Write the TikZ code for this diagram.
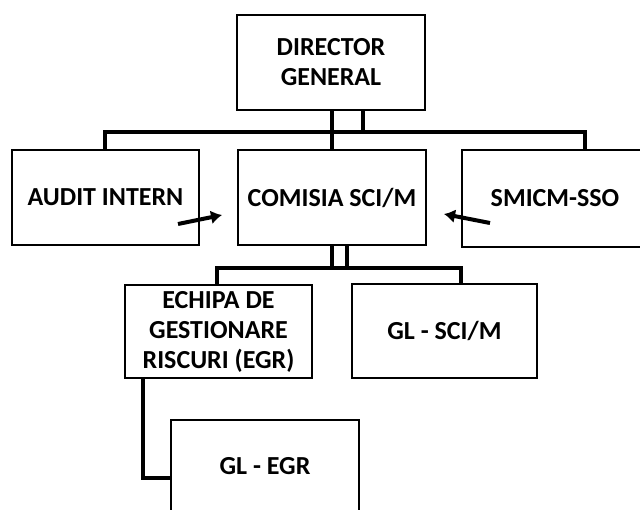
\documentclass[tikz,border=0pt]{standalone}
\usepackage{fontspec}
\setmainfont{Carlito}
\usetikzlibrary{arrows.meta,calc}
\begin{document}
\begin{tikzpicture}[x=1pt,y=-1pt,
  box/.style={draw, line width=1.6pt, inner sep=0pt, align=center,
    font=\fontsize{26}{30}\selectfont\bfseries},
  conn/.style={line width=3.5pt},
  arr/.style={line width=4pt, -{Latex[length=11pt,width=14pt]}}]
\useasboundingbox (0,0) rectangle (640,509);
\clip (0,0) rectangle (640,509);
\fill[white] (0,0) rectangle (640,509);
% boxes
\node[box, minimum width=188pt, minimum height=95pt] (DG) at (331,62.5) {DIRECTOR\\GENERAL};
\node[box, minimum width=187pt, minimum height=95pt] (AI) at (105.5,197.5) {AUDIT INTERN};
\node[box, minimum width=188pt, minimum height=95pt] (COM) at (332,197.5) {COMISIA SCI/M};
\node[box, minimum width=186pt, minimum height=97pt] (SM) at (555,198.5) {SMICM-SSO};
\node[box, minimum width=187pt, minimum height=93pt] (EG) at (218.5,331.5) {ECHIPA DE\\GESTIONARE\\RISCURI (EGR)};
\node[box, minimum width=185pt, minimum height=94pt] (GS) at (444.5,331) {GL - SCI/M};
\node[box, minimum width=188pt, minimum height=92pt] (GE) at (265,466) {GL - EGR};
% bus coordinates
\coordinate (b1L) at (105,132);
\coordinate (b1R) at (585,132);
\coordinate (d1) at (363,132);
\coordinate (b2L) at (217,268);
\coordinate (b2R) at (461,268);
\coordinate (c1) at (347,268);
\coordinate (e1) at (143,478);
% top level connectors
\draw[conn] (DG.south) ++(1,0) coordinate (dgA) -- (dgA |- COM.north);
\draw[conn] (d1 |- DG.south) -- (d1);
\draw[conn] (b1L |- AI.north) -- (b1L) -- (b1R) -- (b1R |- SM.north);
% second level
\draw[conn] (COM.south) -- (COM.south |- b2L);
\draw[conn] (c1 |- COM.south) -- (c1);
\draw[conn] (b2L |- EG.north) -- (b2L) -- (b2R) -- (b2R |- GS.north);
% third level
\draw[conn] (e1 |- EG.south) -- (e1) -- (e1 -| GE.west);
% arrows
\coordinate (a1s) at (178,224);
\coordinate (a1e) at (222,215);
\coordinate (a2s) at (490,223);
\coordinate (a2e) at (444,214);
\draw[arr] (a1s) -- (a1e);
\draw[arr] (a2s) -- (a2e);
\end{tikzpicture}
\end{document}
